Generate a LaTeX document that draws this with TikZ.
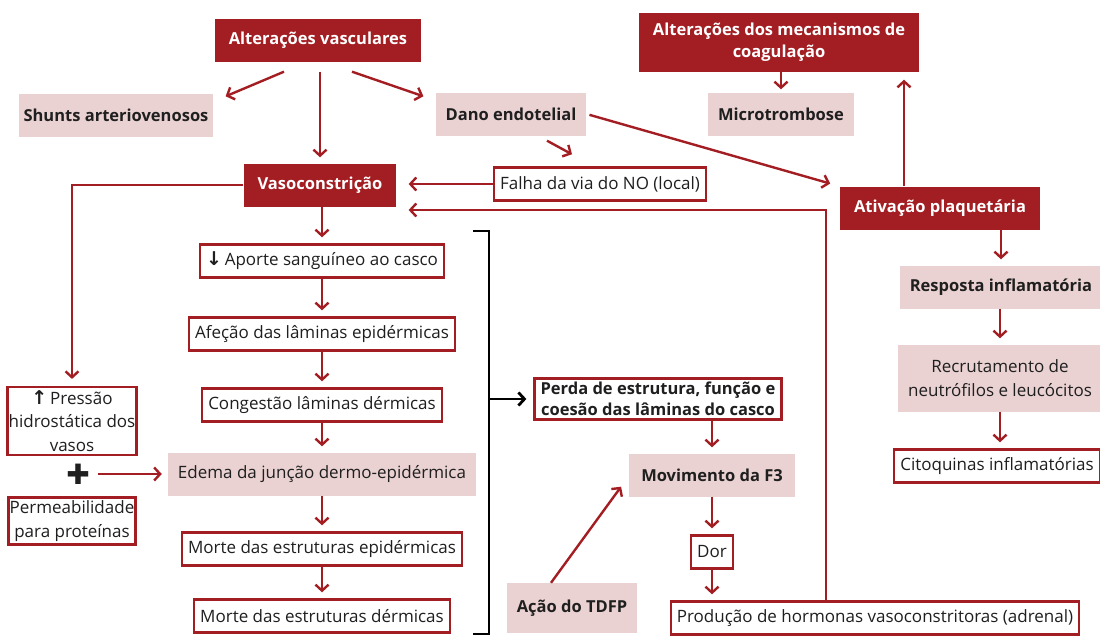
\documentclass[tikz,border=0pt]{standalone}
\usepackage{fontspec}
\setmainfont{Open Sans}
\newfontfamily\symfont{DejaVu Sans}
\usepackage{tikz}
\usetikzlibrary{arrows.meta}
\definecolor{LamRed}{RGB}{163,30,35}
\definecolor{LamPink}{RGB}{234,209,210}
\colorlet{textfg}{black!88}
\tikzset{%
  every node/.style={font=\fontsize{17}{23.5}\selectfont, text=textfg, align=center},
  heavy/.style={font=\fontsize{16.5}{21.5}\selectfont\bfseries},
  red box/.style={fill=LamRed, text=white, heavy, inner xsep=14pt, minimum height=43pt},
  pink box/.style={fill=LamPink, inner xsep=10pt, minimum height=43pt},
  line box/.style={draw=LamRed, line width=2.4pt, fill=white, inner xsep=6pt, minimum height=33pt},
  flow/.style={draw=LamRed, line width=2.4pt, -{Straight Barb[length=6pt,width=13pt]}, shorten >=6pt},
  bracket/.style={draw=black, line width=2.8pt}
}
\newcommand*{\updn}[1]{{\symfont\bfseries\fontsize{19}{19}\selectfont #1}}

\begin{document}
\begin{tikzpicture}[x=1pt,y=-1pt]
    \useasboundingbox (0,0) rectangle (1100,635);
    % top row
    \node[red box] (altv) at (318,40) {Alterações vasculares};
    \node[pink box,heavy, inner xsep=5pt] (shunts) at (116,115) {Shunts arteriovenosos};
    \node[pink box,heavy] (dano) at (511,114) {Dano endotelial};
    \node[red box, minimum height=59pt] (coag) at (779,42) {Alterações dos mecanismos de\\coagulação};
    \node[pink box,heavy] (micro) at (781,114) {Microtrombose};
    \node[red box] (vaso) at (320,185) {Vasoconstrição};
    \node[line box] (falha) at (600,184) {Falha da via do NO (local)};
    \node[red box] (ativ) at (940,208) {Ativação plaquetária};
    % central column
    \node[line box] (aporte) at (322,261) {\updn{↓}\,Aporte sanguíneo ao casco};
    \node[line box] (afecao) at (322,334) {Afeção das lâminas epidérmicas};
    \node[line box] (cong) at (322,405) {Congestão lâminas dérmicas};
    \node[pink box] (edema) at (322,474) {Edema da junção dermo-epidérmica};
    \node[line box] (mortee) at (322,549) {Morte das estruturas epidérmicas};
    \node[line box] (morted) at (322,616) {Morte das estruturas dérmicas};
    % left side
    \node[line box, inner xsep=1pt] (press) at (72,421) {\updn{↑}\,Pressão\\hidrostática dos\\vasos};
    \node (plus) at (78,474) {\symfont\fontsize{28}{28}\selectfont ✚};
    \node[line box, inner xsep=1pt] (perm) at (72,521) {Permeabilidade\\para proteínas};
    % right of the bracket
    \node[line box,heavy] (perda) at (658,399) {Perda de estrutura, função e\\coesão das lâminas do casco};
    \node[pink box,heavy, inner xsep=12pt] (movi) at (712,475) {Movimento da F3};
    \node[line box] (dor) at (712,552) {Dor};
    \node[pink box,heavy, minimum height=50pt] (acao) at (572,608) {Ação do TDFP};
    \node[line box] (prod) at (875,618) {Produção de hormonas vasoconstritoras (adrenal)};
    \node[pink box,heavy] (resp) at (1001,287) {Resposta inflamatória};
    \node[pink box, minimum height=67pt] (recr) at (1000,378) {Recrutamento de\\neutrófilos e leucócitos};
    \node[line box] (cito) at (997,466) {Citoquinas inflamatórias};
    \coordinate (turn) at (826,210);
    \coordinate (brk) at (489,399);

    \draw[flow, shorten <=10pt] (altv.south -| vaso) -- (vaso);
    \draw[flow, shorten >=0pt] ([shift={(-34,10)}]altv.south) -- ([shift={(12,3)}]shunts.north east);
    \draw[flow, shorten >=0pt] ([shift={(34,10)}]altv.south) -- ([shift={(-12,4)}]dano.north west);
    \draw[flow, shorten >=0pt] ([shift={(36,5)}]dano.south) -- ([shift={(-28,-12)}]falha.north);
    \draw[flow, shorten <=3pt, shorten >=10pt] (dano.east) -- (ativ.north west);
    \draw[flow, shorten >=12pt] (falha.west) -- (falha.west -| vaso.east);
    \draw[flow, shorten >=12pt] (prod.north -| turn) -- (turn) -- (turn -| vaso.east);
    \draw[flow, shorten >=7pt] (vaso.west) -| (press.north);
    \foreach \a/\b in {vaso/aporte, aporte/afecao, afecao/cong, cong/edema, edema/mortee, mortee/morted}
      \draw[flow] (\a.south -| aporte) -- (\b.north -| aporte);
    \draw[flow, shorten <=5pt] (plus) -- (edema);
    \draw[flow] (perda.south -| movi) -- (movi);
    \draw[flow] (movi) -- (dor);
    \draw[flow] (dor) -- (dor |- prod.north);
    \draw[flow, shorten >=0pt] ([xshift=-21pt]acao.north) -- ([shift={(-8,-10)}]movi.south west);
    \draw[flow, shorten >=8pt] ([xshift=-36pt]ativ.north) -- ([xshift=-36pt]ativ.north |- coag.south);
    \draw[flow, shorten >=3pt] (coag.south -| micro) -- (micro);
    \draw[flow] (ativ.south -| resp) -- (resp);
    \draw[flow] (resp.south -| recr) -- (recr);
    \draw[flow] (recr) -- (recr |- cito.north);
    % bracket
    \draw[bracket] (473,231) -- (brk |- 0,231) -- (brk |- 0,634) -- (473,634);
    \draw[bracket, -{Straight Barb[length=6pt,width=13pt]}, shorten >=7pt] (brk) -- (perda.west);
  \end{tikzpicture}
\end{document}
